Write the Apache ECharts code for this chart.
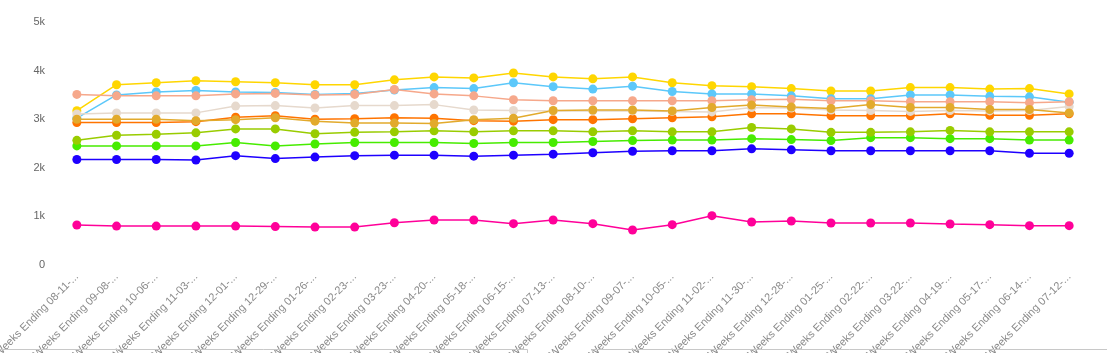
<!DOCTYPE html>
<html>
<head>
<meta charset="utf-8">
<script src="https://cdn.jsdelivr.net/npm/echarts@6/dist/echarts.min.js"></script>
<style>html,body{margin:0;padding:0;background:#fff;}#chart{width:1107px;height:353px;}</style>
</head>
<body>
<div id="chart"></div>
<script>
var categories = ["Weeks Ending 08-11-2024","Weeks Ending 09-08-2024","Weeks Ending 10-06-2024","Weeks Ending 11-03-2024","Weeks Ending 12-01-2024","Weeks Ending 12-29-2024","Weeks Ending 01-26-2025","Weeks Ending 02-23-2025","Weeks Ending 03-23-2025","Weeks Ending 04-20-2025","Weeks Ending 05-18-2025","Weeks Ending 06-15-2025","Weeks Ending 07-13-2025","Weeks Ending 08-10-2025","Weeks Ending 09-07-2025","Weeks Ending 10-05-2025","Weeks Ending 11-02-2025","Weeks Ending 11-30-2025","Weeks Ending 12-28-2025","Weeks Ending 01-25-2026","Weeks Ending 02-22-2026","Weeks Ending 03-22-2026","Weeks Ending 04-19-2026","Weeks Ending 05-17-2026","Weeks Ending 06-14-2026","Weeks Ending 07-12-2026"];

var pink      = [823,800,800,800,800,790,780,780,870,926,926,850,926,850,720,830,1015,885,905,864,864,864,843,830,810,810];
var blue      = [2170,2170,2170,2160,2250,2190,2220,2250,2260,2260,2240,2260,2280,2310,2340,2350,2350,2390,2370,2350,2350,2350,2350,2350,2300,2300];
var green     = [2450,2450,2450,2450,2520,2450,2490,2520,2520,2520,2500,2520,2520,2540,2560,2570,2570,2600,2580,2560,2620,2620,2600,2600,2570,2570];
var yellowGreen = [2565,2670,2690,2720,2800,2800,2700,2730,2740,2760,2740,2760,2760,2740,2760,2740,2740,2830,2800,2730,2730,2740,2770,2740,2740,2740];
var orange    = [2930,2930,2930,2950,3040,3070,3000,3010,3030,3020,2970,2960,2990,2990,3010,3030,3050,3110,3110,3070,3070,3070,3110,3080,3080,3110];
var yellow    = [3175,3710,3750,3790,3770,3750,3710,3710,3810,3870,3850,3950,3870,3830,3870,3750,3690,3670,3630,3580,3580,3650,3650,3620,3630,3520];
var lightBlue = [3020,3500,3560,3590,3560,3550,3510,3530,3600,3650,3630,3750,3670,3620,3680,3570,3520,3520,3480,3420,3420,3500,3500,3470,3460,3350];
var beige     = [3107,3130,3130,3130,3270,3280,3230,3280,3280,3300,3190,3180,3170,3170,3170,3160,3150,3240,3230,3190,3180,3160,3180,3170,3180,3260];
var salmon    = [3510,3480,3480,3480,3520,3530,3500,3510,3610,3520,3480,3400,3380,3380,3380,3380,3380,3400,3410,3380,3380,3360,3360,3360,3340,3360];
var goldenrod = [3000,3000,3000,2970,2990,3030,2960,2920,2920,2910,2990,3020,3180,3190,3190,3170,3240,3290,3250,3220,3300,3240,3240,3200,3200,3130];

var yTicks = ["0","1k","2k","3k","4k","5k"];

var seriesDefs = [
  {name: "Pink", data: pink, color: "#FF0099"},
  {name: "Blue", data: blue, color: "#1E00FF"},
  {name: "Green", data: green, color: "#47EC00"},
  {name: "Yellow Green", data: yellowGreen, color: "#99CC00"},
  {name: "Orange", data: orange, color: "#FF7400"},
  {name: "Yellow", data: yellow, color: "#FFD600"},
  {name: "Light Blue", data: lightBlue, color: "#5CC8FA"},
  {name: "Beige", data: beige, color: "#E6D9CD"},
  {name: "Salmon", data: salmon, color: "#F6A88B"},
  {name: "Goldenrod", data: goldenrod, color: "#E2AA2C"}
];

var chart = echarts.init(document.getElementById('chart'), null, {renderer: 'canvas'});
chart.setOption({
  animation: false,
  backgroundColor: '#ffffff',
  grid: {left: 57, right: 18, top: 22, bottom: 88, containLabel: false, outerBoundsMode: 'none'},
  graphic: [
    {type: 'polyline', z: 100, shape: {points: [[0, 349.5], [527.5, 349.5], [527.5, 353]]}, style: {stroke: '#c8c8c8', lineWidth: 1, fill: null}},
    {type: 'polyline', z: 100, shape: {points: [[592.5, 353], [592.5, 349.5], [1107, 349.5]]}, style: {stroke: '#c8c8c8', lineWidth: 1, fill: null}}
  ],
  xAxis: {
    type: 'category',
    data: categories,
    boundaryGap: true,
    axisLine: {show: false},
    axisTick: {show: false},
    splitLine: {show: false},
    axisLabel: {
      interval: 0,
      rotate: 45,
      margin: 10,
      color: '#8a8a8a',
      fontSize: 11,
      fontFamily: 'Liberation Sans, Arial, sans-serif',
      width: 118,
      overflow: 'truncate',
      ellipsis: '...',
      hideOverlap: false
    }
  },
  yAxis: {
    type: 'value',
    min: 0,
    max: 5000,
    interval: 1000,
    axisLine: {show: false},
    axisTick: {show: false},
    splitLine: {show: false},
    axisLabel: {
      margin: 12,
      color: '#666666',
      fontSize: 11,
      fontFamily: 'Liberation Sans, Arial, sans-serif',
      formatter: function (v) { return yTicks[Math.round(v / 1000)]; }
    }
  },
  series: seriesDefs.map(function (s) {
    return {
      name: s.name,
      type: 'line',
      data: s.data,
      symbol: 'circle',
      symbolSize: 9,
      showSymbol: true,
      lineStyle: {width: 1.5, color: s.color},
      itemStyle: {color: s.color},
      emphasis: {disabled: true}
    };
  })
});
</script>
</body>
</html>
